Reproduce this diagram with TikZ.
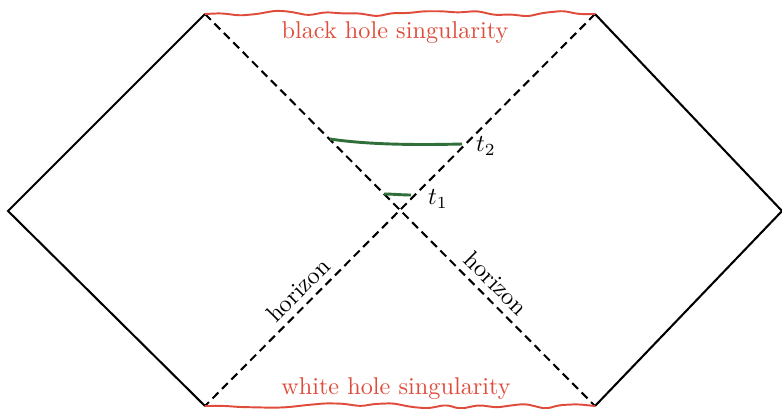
\documentclass[tikz,border=0pt]{standalone}
\usetikzlibrary{decorations.pathmorphing}
\definecolor{sing}{RGB}{224,76,60}
\definecolor{slice}{RGB}{48,110,58}
\tikzset{
  bound/.style={line width=0.85pt, line join=miter},
  hor/.style={line width=0.85pt, dash pattern=on 3.4pt off 2.1pt},
  wig/.style={sing, line width=0.8pt, decorate, decoration={random steps, segment length=7pt, amplitude=1.4pt}, rounded corners=2pt},
  slc/.style={slice, line width=1.2pt},
  lab/.style={inner sep=1pt},
}
\begin{document}
\begin{tikzpicture}[x=0.412pt, y=-0.412pt]
\useasboundingbox (0,0) rectangle (782,408);
% corners
\coordinate (TL) at (205,14);
\coordinate (BL) at (205,406);
\coordinate (TR) at (595,14);
\coordinate (BR) at (595,406);
\coordinate (L) at (8,211);
\coordinate (R) at (782,211);
% outer boundaries
\draw[bound] (TL) -- (L) -- (BL);
\draw[bound] (TR) -- (R) -- (BR);
% horizons
\draw[hor] (TL) -- (BR);
\draw[hor] (TR) -- (BL);
% singularities
\pgfmathsetseed{7}
\draw[wig] (TL) -- (TR);
\pgfmathsetseed{11}
\draw[wig] (BL) -- (BR);
\node[sing, lab] (bh) at (395,33) {black hole singularity};
\node[sing, lab] (wh) at (396,389) {white hole singularity};
% slices
\coordinate (a2) at (330,139);
\coordinate (b2) at (462,144);
\coordinate (a1) at (384,194);
\coordinate (b1) at (411,195);
\draw[slc] (a2) .. controls (370,145) and (420,145) .. (b2);
\draw[slc] (a1) .. controls (392,194) and (402,195) .. (b1);
\node[lab] (t2) at (486,146) {$t_2$};
\node[lab] (t1) at (438,199) {$t_1$};
% horizon labels
\node[lab, rotate=45] (h1) at (298,290) {horizon};
\node[lab, rotate=-45] (h2) at (496,283) {horizon};
\end{tikzpicture}
\end{document}
